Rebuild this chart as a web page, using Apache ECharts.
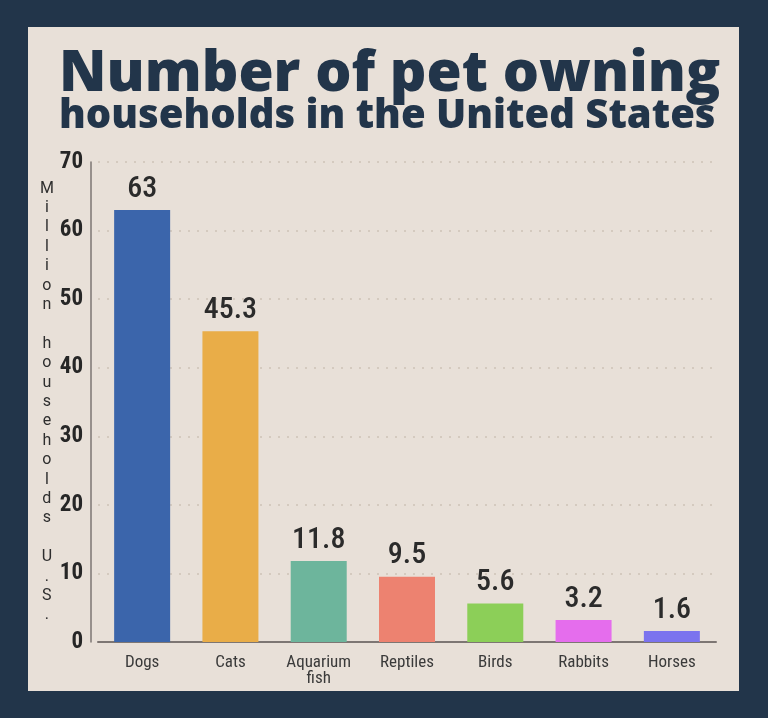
<!DOCTYPE html>
<html>
<head>
<meta charset="utf-8">
<style>
  html, body { margin: 0; padding: 0; background: #22354a; }
  #chart { width: 768px; height: 718px; }
</style>
<script src="https://cdn.jsdelivr.net/npm/echarts@6/dist/echarts.min.js"></script>
</head>
<body>
<div id="chart"></div>
<script>
const titleLine1 = 'Number of pet owning';
const titleLine2 = 'households in the United States';
const yAxisName = 'Million households U.S.';
const categories = ['Dogs', 'Cats', 'Aquarium\nfish', 'Reptiles', 'Birds', 'Rabbits', 'Horses'];
const values = [63, 45.3, 11.8, 9.5, 5.6, 3.2, 1.6];
const barColors = ['#3b65ab', '#e9ad48', '#6db59c', '#ed8270', '#8ccf58', '#e56ded', '#7b73ee'];
const yTicks = [0, 10, 20, 30, 40, 50, 60, 70];

const condensed = '"Roboto Condensed", "DejaVu Sans Condensed", sans-serif';
const navy = '#22354a';

const chart = echarts.init(document.getElementById('chart'), null, { renderer: 'canvas' });
chart.setOption({
  backgroundColor: navy,
  animation: false,
  graphic: [
    { type: 'rect', z: -10, shape: { x: 28, y: 27, width: 711, height: 664 }, style: { fill: '#e8e0d8' } },
    { type: 'text', z: 10, left: 59, top: 46,
      style: { text: titleLine1, fill: navy, font: '800 57px "Open Sans", sans-serif' } },
    { type: 'text', z: 10, left: 59, top: 97,
      style: { text: titleLine2, fill: navy, font: '800 40px "Open Sans", sans-serif' } }
  ],
  grid: { left: 98, right: 52, top: 162, bottom: 76 },
  xAxis: {
    type: 'category',
    data: categories,
    axisLine: { lineStyle: { color: '#7d7673', width: 2 } },
    axisTick: { alignWithLabel: true, length: 5, lineStyle: { color: '#5e5855', width: 1.5 } },
    axisLabel: { color: '#3a3a3a', fontSize: 17, fontFamily: condensed, margin: 13, lineHeight: 16, interval: 0 }
  },
  yAxis: {
    type: 'value',
    min: yTicks[0],
    max: yTicks[yTicks.length - 1],
    interval: 10,
    offset: 7,
    name: yAxisName.split('').join('\n'),
    nameLocation: 'middle',
    nameRotate: 0,
    nameGap: 38,
    nameTextStyle: { align: 'center', verticalAlign: 'middle', color: '#2e2e2e', fontSize: 16, lineHeight: 19.4, padding: [14, 0, 0, 0], fontFamily: '"Roboto", sans-serif' },
    axisLine: { show: true, lineStyle: { color: '#7d7673', width: 1.5 } },
    axisTick: { show: false },
    axisLabel: { color: '#262626', fontSize: 23, fontWeight: 'bold', fontFamily: condensed, margin: 8 },
    splitLine: { show: true, lineStyle: { color: '#cdc2b6', width: 1.5, type: [2, 7] } }
  },
  series: [{
    type: 'bar',
    barWidth: 56,
    data: values.map((v, i) => ({ value: v, itemStyle: { color: barColors[i] } })),
    label: { show: true, position: 'top', distance: 6, color: '#2b2b2b', fontSize: 30, fontWeight: 500, fontFamily: condensed }
  }]
});
</script>
</body>
</html>
